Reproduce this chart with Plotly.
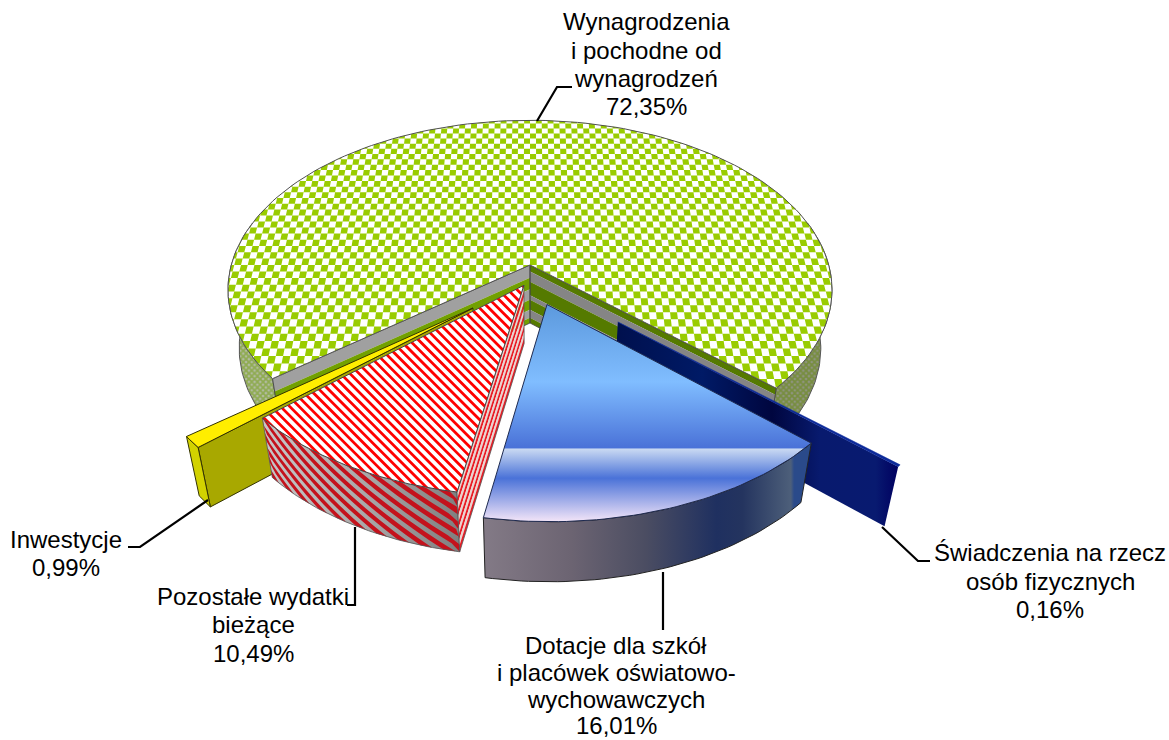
import math
import plotly.graph_objects as go

# ---------- data ----------
categories = ["Wynagrodzenia i pochodne od wynagrodzeń", "Inwestycje", "Pozostałe wydatki bieżące",
              "Dotacje dla szkół i placówek oświatowo-wychowawczych", "Świadczenia na rzecz osób fizycznych"]
values = [72.35, 0.99, 10.49, 16.01, 0.16]
label_lines = [["Wynagrodzenia", "i pochodne od", "wynagrodzeń"], ["Inwestycje"], ["Pozostałe wydatki", "bieżące"],
               ["Dotacje dla szkół", "i placówek oświatowo-", "wychowawczych"], ["Świadczenia na rzecz", "osób fizycznych"]]

# ---------- view of the pie (style / geometry constants) ----------
CX, CY, RX, RY, K = 530.0, 265.0, 298.7, 166.0, 0.147
DEPTH, SHRINK, GROW = 58.0, 0.037, 0.008
START = -42.0
explode = [(0, 0), (-.184, -.25), (-.02, -.12), (.055, -.23), (.28, -.327)]
radius = [1.0, 1.04, 1.035, 1.03, 1.04]

angles = []
a = START
for v in values:
    angles.append((a, a + v * 3.6))
    a += v * 3.6


def P(X, Y, z=0.0):
    d = 1 + K * Y
    x0, y0 = RX * X / d, -RY * Y / d
    return CX + x0 * (1 - SHRINK * z), CY + y0 * (1 + GROW * z) + DEPTH * z


def rim(i, deg, r=None):
    ox, oy = explode[i]
    r = radius[i] if r is None else r
    t = math.radians(deg)
    return ox + r * math.cos(t), oy + r * math.sin(t)


def arc(i, a0, a1, z=0.0, n=50):
    return [P(*rim(i, a0 + (a1 - a0) * j / n), z) for j in range(n + 1)]


fig = go.Figure()
LINE = "#2b2b2b"


def poly(pts, fill=None, line=None, w=1.0, **kw):
    xs = [p[0] for p in pts] + [pts[0][0]]
    ys = [p[1] for p in pts] + [pts[0][1]]
    fig.add_trace(go.Scatter(x=xs, y=ys, mode="lines" if line else "none", fill="toself",
                             fillcolor=fill if fill else "rgba(0,0,0,0)",
                             line=dict(color=line or "rgba(0,0,0,0)", width=w),
                             hoverinfo="skip", showlegend=False, **kw))


def multi(polys, fill):
    xs, ys = [], []
    for q in polys:
        xs += [p[0] for p in q] + [q[0][0], None]
        ys += [p[1] for p in q] + [q[0][1], None]
    fig.add_trace(go.Scatter(x=xs, y=ys, mode="none", fill="toself", fillcolor=fill,
                             hoverinfo="skip", showlegend=False))


def outline(pts, color=LINE, w=1.0, close=True):
    q = pts + [pts[0]] if close else pts
    fig.add_trace(go.Scatter(x=[p[0] for p in q], y=[p[1] for p in q], mode="lines",
                             line=dict(color=color, width=w), hoverinfo="skip", showlegend=False))


def side(i, deg, z0=0.0, z1=1.0):
    tip = explode[i]
    e = rim(i, deg)
    return [P(*tip, z0), P(*e, z0), P(*e, z1), P(*tip, z1)]


def clip(subject, clipper):
    # convex polygon clipping; the clipper is made counter-clockwise first
    area = sum(clipper[i][0] * clipper[(i + 1) % len(clipper)][1] -
               clipper[(i + 1) % len(clipper)][0] * clipper[i][1] for i in range(len(clipper)))
    if area < 0:
        clipper = clipper[::-1]
    out = subject
    n = len(clipper)
    for k in range(n):
        ax, ay = clipper[k]
        bx, by = clipper[(k + 1) % n]
        inp, out = out, []
        if not inp:
            return []
        f = lambda p: (bx - ax) * (p[1] - ay) - (by - ay) * (p[0] - ax)
        for j in range(len(inp)):
            c, nx = inp[j], inp[(j + 1) % len(inp)]
            fc, fn = f(c), f(nx)
            if fc >= 0:
                out.append(c)
            if (fc >= 0) != (fn >= 0):
                s = fc / (fc - fn)
                out.append((c[0] + s * (nx[0] - c[0]), c[1] + s * (nx[1] - c[1])))
    return out


# ---------- 1. green slice ----------
g0, g1 = angles[0]
# outer wall, left and right
wl = arc(0, 165, g1) + arc(0, g1, 165, 1.0)
wr = arc(0, g0, 15) + arc(0, 15, g0, 1.0)
poly(wl, fill="#b0b8a0", line="#555555",
     fillpattern=dict(shape="x", size=4, solidity=0.7, fgcolor="#6a9a00", bgcolor="#b4bca4"))
poly(wr, fill="#8f9480", line="#555555",
     fillpattern=dict(shape="x", size=4, solidity=0.7, fgcolor="#5f8600", bgcolor="#8f9480"))

# inner walls as lengthwise bands
bands = [0, .11, .29, .52, .60, .77, .91, 1.0]
for j in range(len(bands) - 1):
    poly(side(0, g0, bands[j], bands[j + 1]), fill="#557a00" if j % 2 == 0 else "#858585")
bandsL = [0, .22, .42, .60, .77, .91, 1.0]
for j in range(len(bandsL) - 1):
    poly(side(0, g1, bandsL[j], bandsL[j + 1]), fill="#a0a0a0" if j % 2 == 0 else "#72a000")
outline(side(0, g0), "#444444", 0.8)
outline(side(0, g1), "#444444", 0.8)

# top with a checker laid out in the pie plane
poly([P(0, 0)] + arc(0, g0, g1, n=150), fill="#ffffff")
mid = (g0 + g1) / 2
wedges = []
for a0, a1 in ((g0, mid), (mid, g1)):
    wedges.append([(0.0, 0.0)] + [rim(0, a0 + (a1 - a0) * j / 60) for j in range(61)])
DXC, DYC = 0.0225, 0.039
cells = []
for ix in range(-46, 46):
    for iy in range(-28, 28):
        if (ix + iy) % 2:
            continue
        sq = [(ix * DXC, iy * DYC), ((ix + 1) * DXC, iy * DYC),
              ((ix + 1) * DXC, (iy + 1) * DYC), (ix * DXC, (iy + 1) * DYC)]
        if min(math.hypot(*p) for p in sq) > 1.0:
            continue
        for w in wedges:
            c = clip(sq, w)
            if len(c) > 2:
                cells.append([P(*p) for p in c])
multi(cells, "#99cc00")
outline([P(0, 0)] + arc(0, g0, g1, n=150), "#505050", 1.0)

# ---------- 2. navy slice ----------
n0, n1 = angles[4]
poly(side(4, n0), fill="#001a70",
     fillgradient=dict(type="horizontal", start=618, stop=898,
                       colorscale=[[0, "#00104e"], [.3, "#001a66"], [.55, "#00063f"], [.72, "#081a6e"],
                                   [.92, "#081a70"], [1, "#000060"]]))
poly([P(*explode[4])] + arc(4, n0, n1, n=3), fill="#0d2a9a", line="#0d2a9a", w=0.5)

# ---------- 3. yellow slice ----------
y0, y1 = angles[1]
poly(side(1, y1), fill="#a8a800", line="#333300", w=1)
poly(arc(1, y0, y1, n=4) + arc(1, y1, y0, 1.0, n=4), fill="#d2d200", line="#333300", w=1)
poly([P(*explode[1])] + arc(1, y0, y1, n=4), fill="#ffee00", line="#333300", w=1)

# ---------- 4. red slice ----------
r0, r1 = angles[2]
# outer wall: slanted stripes in (angle, depth)
wall = arc(2, r0, r1) + arc(2, r1, r0, 1.0)
poly(wall, fill="#b4b4b4",
     fillgradient=dict(type="horizontal", start=267, stop=458,
                       colorscale=[[0, "#c6c6c6"], [.5, "#aaaaaa"], [1, "#808080"]]))
stripes = []
PERIOD, SHIFT = 3.9, 20.0
u = r0 - SHIFT - PERIOD
while u < r1:
    upper, lower = [], []
    for j in range(9):
        z = j / 8
        u1 = min(max(u + SHIFT * z, r0), r1)
        u2 = min(max(u + 0.5 * PERIOD + SHIFT * z, r0), r1)
        upper.append(P(*rim(2, u1), z))
        lower.append(P(*rim(2, u2), z))
    stripes.append(upper + lower[::-1])
    u += PERIOD
multi(stripes, "#c4121c")
outline(wall, "#555555", 0.8)
# inner wall: stripes along its length
nb = 10
for j in range(nb):
    poly(side(2, r1, j / nb, (j + 1) / nb), fill="#e81c24" if j % 2 else "#e8d4d0")
outline(side(2, r1), "#555555", 0.8)
# top: white with 45 degree red stripes
red_top = [P(*explode[2])] + arc(2, r0, r1)
poly(red_top, fill="#ffffff")
ymin, ymax = min(p[1] for p in red_top), max(p[1] for p in red_top)
cmin = min(p[0] - p[1] for p in red_top)
cmax = max(p[0] - p[1] for p in red_top)
TP, TW = 9.3, 3.9
bars = []
c = cmin - TP
while c < cmax:
    band = [(c + ymin, ymin), (c + TW + ymin, ymin), (c + TW + ymax, ymax), (c + ymax, ymax)]
    q = clip(band, red_top)
    if len(q) > 2:
        bars.append(q)
    c += TP
multi(bars, "#ff0000")
outline(red_top, "#444444", 1.0)

# ---------- 5. blue slice ----------
b0, b1 = angles[3]
wall = arc(3, b0, b1) + arc(3, b1, b0, 1.0)
poly(wall, fill="#555566", line="#222222", w=1,
     fillgradient=dict(type="horizontal", start=484, stop=807,
                       colorscale=[[0, "#837a86"], [.27, "#6c6472"], [.5, "#4b4d62"], [.72, "#1f3060"],
                                   [.8, "#24345f"], [.95, "#4d5f7a"], [.96, "#2a4a8a"], [1, "#2a4a8a"]]))
poly([P(*explode[3])] + arc(3, b0, b1), fill="#5b9bdd", line="#1e2a50", w=1,
     fillgradient=dict(type="vertical", start=303, stop=522,
                       colorscale=[[0, "#5b98dc"], [.36, "#80bdff"], [.66, "#4a72d8"], [.668, "#c8d8f2"],
                                   [.80, "#4a72d8"], [1, "#f5e6f8"]]))

# ---------- 6. leader lines and labels ----------
leaders = [
    [(537, 121), (557, 87), (572, 87)],
    [(128, 547), (140, 547), (208, 500)],
    [(355, 527), (355, 605), (347, 605)],
    [(663, 572), (663, 630)],
    [(882, 527), (918, 561), (930, 561)],
]
for ld in leaders:
    outline(ld, "#000000", 2.2, close=False)

label_pos = [(646, [21, 50, 78, 106]), (66, [539, 567]), (253, [596, 624, 653]),
             (616, [645, 672, 699, 725]), (1050, [552, 581, 609])]
for lines, val, (lx, lys) in zip(label_lines, values, label_pos):
    for txt, ly in zip(lines + [f"{val:.2f}%".replace(".", ",")], lys):
        fig.add_annotation(x=lx, y=ly, text=txt, showarrow=False, xanchor="center", yanchor="middle",
                           font=dict(family="Liberation Sans, Arial", size=24, color="#000000"))

fig.update_layout(width=1169, height=740, margin=dict(l=0, r=0, t=0, b=0), autosize=False,
                  paper_bgcolor="#ffffff", plot_bgcolor="#ffffff", showlegend=False,
                  xaxis=dict(range=[0, 1169], visible=False, fixedrange=True),
                  yaxis=dict(range=[740, 0], visible=False, fixedrange=True))
fig.write_html("out.html", config=dict(displayModeBar=False),
               post_script="document.body.style.margin='0';")
